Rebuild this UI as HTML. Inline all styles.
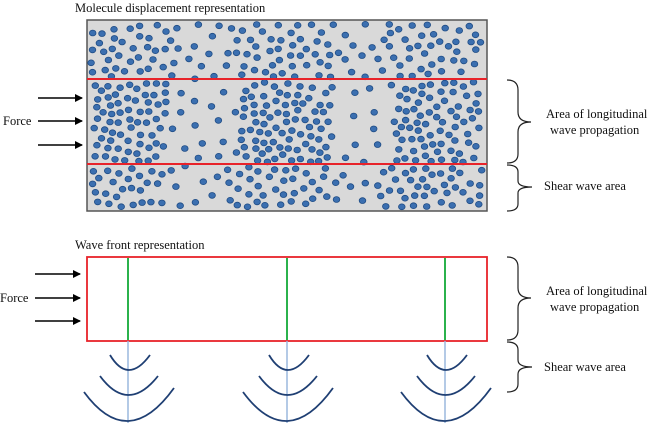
<!DOCTYPE html>
<html><head><meta charset="utf-8"><style>
body{margin:0;background:#fff;width:653px;height:423px;overflow:hidden}
svg{display:block}
text{font-family:"Liberation Serif",serif;font-size:12.5px;fill:#111}
</style></head><body>
<svg id="s" width="653" height="423" viewBox="0 0 653 423">
<defs><marker id="ah" markerWidth="8" markerHeight="8" refX="7" refY="4" orient="auto" markerUnits="userSpaceOnUse"><path d="M0,0 L8,4 L0,8 Z" fill="#000"/></marker></defs>
<text x="75" y="12">Molecule displacement representation</text>
<rect x="87" y="20" width="400" height="191" fill="#d9d9d9" stroke="#555" stroke-width="1.5"/>
<g id="dots"></g>
<line x1="87" y1="79" x2="487" y2="79" stroke="#e8232a" stroke-width="2"/>
<line x1="87" y1="164" x2="487" y2="164" stroke="#e8232a" stroke-width="2"/>
<g stroke="#000" stroke-width="1.6" marker-end="url(#ah)">
<line x1="38" y1="98" x2="82" y2="98"/><line x1="38" y1="121" x2="82" y2="121"/><line x1="38" y1="145" x2="82" y2="145"/>
<line x1="35" y1="274" x2="80" y2="274"/><line x1="35" y1="298" x2="80" y2="298"/><line x1="35" y1="321" x2="80" y2="321"/>
</g>
<text x="3" y="125">Force</text>
<text x="0" y="302">Force</text>
<g fill="none" stroke="#222" stroke-width="1.2">
<path d="M507,80 Q518,80 518,90 L518,112 Q518,122 531,122 Q518,122 518,132 L518,154 Q518,163 507,163"/>
<path d="M507,165 Q518,165 518,172 L518,181 Q518,187 532,187 Q518,187 518,193 L518,204 Q518,211 507,211"/>
<path d="M507,257 Q518,257 518,267 L518,288 Q518,298 531,298 Q518,298 518,308 L518,330 Q518,340 507,340"/>
<path d="M507,342 Q518,342 518,350 L518,360 Q518,367 532,367 Q518,367 518,374 L518,384 Q518,392 507,392"/>
</g>
<text x="546" y="118">Area of longitudinal</text>
<text x="550" y="134">wave propagation</text>
<text x="544" y="190">Shear wave area</text>
<text x="546" y="295">Area of longitudinal</text>
<text x="550" y="311">wave propagation</text>
<text x="544" y="371">Shear wave area</text>
<text x="75" y="249">Wave front representation</text>
<rect x="87" y="257" width="400" height="84" fill="none" stroke="#e8232a" stroke-width="1.8"/>
<g id="waves"></g>
</svg>
<script>
var ns="http://www.w3.org/2000/svg",g=document.getElementById("dots"),w=document.getElementById("waves");
var seed=11;function r(){seed=(seed*16807)%2147483647;return (seed-1)/2147483646;}
var cl=[122,285,440],pts=[];
function add(x,y,md){if(x<91||x>483||y<24||y>207)return false;for(var k=0;k<pts.length;k++){var dx=pts[k][0]-x,dy=pts[k][1]-y;if(dx*dx+dy*dy<md)return false;}pts.push([x,y]);return true;}
for(var t=0;t<6000;t++){var c=cl[t%3];var x=c+(r()+r()+r()-1.5)*36,y=82+r()*80;add(x,y,60);}
for(var t=0;t<1500;t++){var c=cl[t%3];var x=c+(r()+r()+r()-1.5)*50,y=r()<0.5?24+r()*53:167+r()*40;add(x,y,70);}
for(var t=0;t<2500;t++){var x=91+r()*392,y=24+r()*183;var m=y>79&&y<164;add(x,y,m?220:150);}
pts.forEach(function(p){var c=document.createElementNS(ns,"ellipse");c.setAttribute("cx",p[0].toFixed(1));c.setAttribute("cy",p[1].toFixed(1));c.setAttribute("rx",3.3);c.setAttribute("ry",2.9);c.setAttribute("fill","#3b6fb0");c.setAttribute("stroke","#1f4c85");c.setAttribute("stroke-width","0.8");g.appendChild(c);});
var h="";[128,287,445].forEach(function(x){
h+='<line x1="'+x+'" y1="341" x2="'+x+'" y2="423" stroke="#9ab8dd" stroke-width="1.5"/>';
h+='<line x1="'+x+'" y1="258" x2="'+x+'" y2="340" stroke="#2bb24c" stroke-width="2"/>';
h+='<path d="M'+(x-18)+',355 Q'+x+',385 '+(x+22)+',355" fill="none" stroke="#1f3f73" stroke-width="1.8"/>';
h+='<path d="M'+(x-28)+',376 Q'+x+',414 '+(x+30)+',376" fill="none" stroke="#1f3f73" stroke-width="1.8"/>';
h+='<path d="M'+(x-44)+',392 Q'+x+',452 '+(x+46)+',388" fill="none" stroke="#1f3f73" stroke-width="1.8"/>';});
w.innerHTML=h;
</script>
</body></html>
